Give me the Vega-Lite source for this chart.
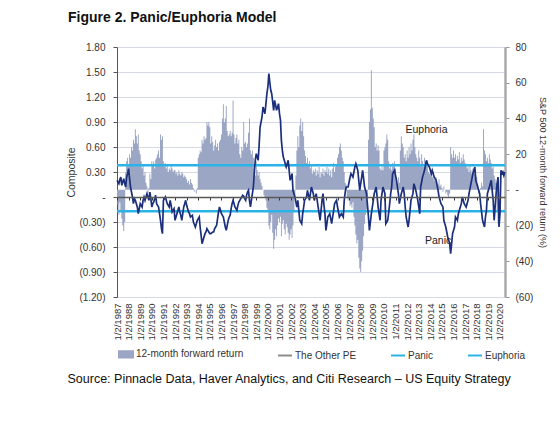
{
"$schema": "https://vega.github.io/schema/vega-lite/v6.json",
"width": 388, "height": 250,
"autosize": "none",
"padding": {"left": 117, "top": 47, "right": 55, "bottom": 139},
"background": "white",
"title": {"text": "Figure 2. Panic/Euphoria Model", "anchor": "start", "frame": "group", "dx": -49, "offset": 6, "fontSize": 14, "font": "Liberation Sans", "fontWeight": "bold", "color": "#111", "baseline": "alphabetic"},
"config": {"view": {"stroke": null}},
"datasets": {
"s": [
{"d":"1987-01","r":-4,"c":0.2},{"d":"1987-02","r":-8,"c":0.18},{"d":"1987-03","r":-14,"c":0.16},{"d":"1987-04","r":-7,"c":0.21},{"d":"1987-05","r":-12,"c":0.24},{"d":"1987-06","r":-16,"c":0.14},{"d":"1987-07","r":-20,"c":0.18},{"d":"1987-08","r":-23,"c":0.22},{"d":"1987-09","r":-18,"c":0.16},{"d":"1987-10","r":10,"c":0.12},{"d":"1987-11","r":16,"c":0.24},{"d":"1987-12","r":18,"c":0.28},
{"d":"1988-01","r":14,"c":0.34},{"d":"1988-02","r":20,"c":0.22},{"d":"1988-03","r":18,"c":0.12},{"d":"1988-04","r":24,"c":0.06},{"d":"1988-05","r":22,"c":0.0},{"d":"1988-06","r":28,"c":-0.08},{"d":"1988-07","r":26,"c":-0.02},{"d":"1988-08","r":34,"c":-0.04},{"d":"1988-09","r":30,"c":-0.08},{"d":"1988-10","r":26,"c":-0.12},{"d":"1988-11","r":31,"c":-0.2},{"d":"1988-12","r":22,"c":-0.14},
{"d":"1989-01","r":20,"c":-0.08},{"d":"1989-02","r":16,"c":-0.1},{"d":"1989-03","r":12,"c":-0.12},{"d":"1989-04","r":14,"c":-0.04},{"d":"1989-05","r":8,"c":0.0},{"d":"1989-06","r":10,"c":-0.04},{"d":"1989-07","r":4,"c":0.0},{"d":"1989-08","r":2,"c":0.04},{"d":"1989-09","r":-2,"c":0.0},{"d":"1989-10","r":1,"c":-0.04},{"d":"1989-11","r":9,"c":0.06},{"d":"1989-12","r":6,"c":-0.02},
{"d":"1990-01","r":16,"c":-0.12},{"d":"1990-02","r":14,"c":-0.08},{"d":"1990-03","r":16,"c":-0.06},{"d":"1990-04","r":12,"c":-0.02},{"d":"1990-05","r":17,"c":0.02},{"d":"1990-06","r":18,"c":-0.08},{"d":"1990-07","r":20,"c":-0.1},{"d":"1990-08","r":22,"c":-0.12},{"d":"1990-09","r":18,"c":-0.2},{"d":"1990-10","r":31,"c":-0.28},{"d":"1990-11","r":28,"c":-0.38},{"d":"1990-12","r":30,"c":-0.44},
{"d":"1991-01","r":16,"c":-0.04},{"d":"1991-02","r":13,"c":-0.02},{"d":"1991-03","r":15,"c":0.0},{"d":"1991-04","r":12,"c":-0.04},{"d":"1991-05","r":14,"c":-0.08},{"d":"1991-06","r":10,"c":-0.1},{"d":"1991-07","r":12,"c":-0.12},{"d":"1991-08","r":11,"c":-0.04},{"d":"1991-09","r":14,"c":-0.1},{"d":"1991-10","r":12,"c":-0.18},{"d":"1991-11","r":10,"c":-0.16},{"d":"1991-12","r":11,"c":-0.14},
{"d":"1992-01","r":11,"c":-0.28},{"d":"1992-02","r":9,"c":-0.24},{"d":"1992-03","r":10,"c":-0.2},{"d":"1992-04","r":8,"c":-0.16},{"d":"1992-05","r":11,"c":-0.12},{"d":"1992-06","r":9,"c":-0.18},{"d":"1992-07","r":8,"c":-0.22},{"d":"1992-08","r":10,"c":-0.28},{"d":"1992-09","r":9,"c":-0.2},{"d":"1992-10","r":7,"c":-0.12},{"d":"1992-11","r":8,"c":-0.08},{"d":"1992-12","r":7,"c":-0.04},
{"d":"1993-01","r":6,"c":-0.1},{"d":"1993-02","r":4,"c":-0.14},{"d":"1993-03","r":5,"c":-0.18},{"d":"1993-04","r":3,"c":-0.2},{"d":"1993-05","r":6,"c":-0.24},{"d":"1993-06","r":4,"c":-0.23},{"d":"1993-07","r":3,"c":-0.22},{"d":"1993-08","r":1,"c":-0.3},{"d":"1993-09","r":-1,"c":-0.33},{"d":"1993-10","r":0,"c":-0.36},{"d":"1993-11","r":-2,"c":-0.32},{"d":"1993-12","r":1,"c":-0.28},
{"d":"1994-01","r":18,"c":-0.26},{"d":"1994-02","r":20,"c":-0.24},{"d":"1994-03","r":22,"c":-0.36},{"d":"1994-04","r":21,"c":-0.46},{"d":"1994-05","r":28,"c":-0.56},{"d":"1994-06","r":26,"c":-0.52},{"d":"1994-07","r":30,"c":-0.48},{"d":"1994-08","r":28,"c":-0.44},{"d":"1994-09","r":29,"c":-0.42},{"d":"1994-10","r":38,"c":-0.38},{"d":"1994-11","r":36,"c":-0.4},{"d":"1994-12","r":38,"c":-0.42},
{"d":"1995-01","r":35,"c":-0.44},{"d":"1995-02","r":26,"c":-0.44},{"d":"1995-03","r":30,"c":-0.43},{"d":"1995-04","r":27,"c":-0.42},{"d":"1995-05","r":22,"c":-0.42},{"d":"1995-06","r":25,"c":-0.38},{"d":"1995-07","r":28,"c":-0.36},{"d":"1995-08","r":24,"c":-0.34},{"d":"1995-09","r":26,"c":-0.26},{"d":"1995-10","r":22,"c":-0.18},{"d":"1995-11","r":27,"c":-0.12},{"d":"1995-12","r":28,"c":-0.16},
{"d":"1996-01","r":31,"c":-0.2},{"d":"1996-02","r":40,"c":-0.22},{"d":"1996-03","r":48,"c":-0.24},{"d":"1996-04","r":38,"c":-0.3},{"d":"1996-05","r":40,"c":-0.36},{"d":"1996-06","r":47,"c":-0.4},{"d":"1996-07","r":33,"c":-0.34},{"d":"1996-08","r":30,"c":-0.28},{"d":"1996-09","r":31,"c":-0.24},{"d":"1996-10","r":33,"c":-0.22},{"d":"1996-11","r":30,"c":-0.14},{"d":"1996-12","r":32,"c":-0.08},
{"d":"1997-01","r":50,"c":-0.04},{"d":"1997-02","r":31,"c":-0.08},{"d":"1997-03","r":26,"c":-0.12},{"d":"1997-04","r":29,"c":-0.14},{"d":"1997-05","r":31,"c":-0.16},{"d":"1997-06","r":26,"c":-0.1},{"d":"1997-07","r":28,"c":-0.06},{"d":"1997-08","r":20,"c":-0.04},{"d":"1997-09","r":18,"c":-0.02},{"d":"1997-10","r":24,"c":0.0},{"d":"1997-11","r":22,"c":0.02},{"d":"1997-12","r":38,"c":0.01},
{"d":"1998-01","r":26,"c":-0.02},{"d":"1998-02","r":27,"c":-0.04},{"d":"1998-03","r":24,"c":0.02},{"d":"1998-04","r":26,"c":0.06},{"d":"1998-05","r":32,"c":0.08},{"d":"1998-06","r":40,"c":-0.04},{"d":"1998-07","r":22,"c":-0.12},{"d":"1998-08","r":20,"c":-0.04},{"d":"1998-09","r":22,"c":0.04},{"d":"1998-10","r":18,"c":0.12},{"d":"1998-11","r":12,"c":0.3},{"d":"1998-12","r":8,"c":0.44},
{"d":"1999-01","r":16,"c":0.52},{"d":"1999-02","r":11,"c":0.48},{"d":"1999-03","r":8,"c":0.44},{"d":"1999-04","r":10,"c":0.62},{"d":"1999-05","r":6,"c":0.84},{"d":"1999-06","r":4,"c":0.9},{"d":"1999-07","r":2,"c":0.96},{"d":"1999-08","r":0,"c":1.08},{"d":"1999-09","r":-3,"c":1.04},{"d":"1999-10","r":-4,"c":1.0},{"d":"1999-11","r":-6,"c":1.12},{"d":"1999-12","r":-10,"c":1.24},
{"d":"2000-01","r":-12,"c":1.32},{"d":"2000-02","r":-20,"c":1.48},{"d":"2000-03","r":-22,"c":1.38},{"d":"2000-04","r":-18,"c":1.28},{"d":"2000-05","r":-14,"c":1.24},{"d":"2000-06","r":-24,"c":1.14},{"d":"2000-07","r":-33,"c":1.04},{"d":"2000-08","r":-28,"c":1.16},{"d":"2000-09","r":-22,"c":1.1},{"d":"2000-10","r":-26,"c":1.04},{"d":"2000-11","r":-20,"c":1.08},{"d":"2000-12","r":-16,"c":1.12},
{"d":"2001-01","r":-18,"c":1.0},{"d":"2001-02","r":-15,"c":0.92},{"d":"2001-03","r":-26,"c":0.68},{"d":"2001-04","r":-19,"c":0.56},{"d":"2001-05","r":-17,"c":0.48},{"d":"2001-06","r":-22,"c":0.44},{"d":"2001-07","r":-25,"c":0.4},{"d":"2001-08","r":-19,"c":0.36},{"d":"2001-09","r":-21,"c":0.4},{"d":"2001-10","r":-24,"c":0.44},{"d":"2001-11","r":-28,"c":0.32},{"d":"2001-12","r":-25,"c":0.2},
{"d":"2002-01","r":-22,"c":0.24},{"d":"2002-02","r":-27,"c":0.28},{"d":"2002-03","r":-20,"c":0.08},{"d":"2002-04","r":-12,"c":0.04},{"d":"2002-05","r":-4,"c":0.0},{"d":"2002-06","r":8,"c":-0.06},{"d":"2002-07","r":22,"c":-0.12},{"d":"2002-08","r":30,"c":-0.04},{"d":"2002-09","r":24,"c":-0.16},{"d":"2002-10","r":36,"c":-0.28},{"d":"2002-11","r":40,"c":-0.3},{"d":"2002-12","r":33,"c":-0.32},
{"d":"2003-01","r":38,"c":-0.2},{"d":"2003-02","r":30,"c":-0.12},{"d":"2003-03","r":22,"c":-0.04},{"d":"2003-04","r":19,"c":-0.02},{"d":"2003-05","r":15,"c":0.0},{"d":"2003-06","r":18,"c":0.08},{"d":"2003-07","r":14,"c":0.02},{"d":"2003-08","r":16,"c":-0.04},{"d":"2003-09","r":12,"c":0.04},{"d":"2003-10","r":14,"c":0.12},{"d":"2003-11","r":9,"c":0.08},{"d":"2003-12","r":11,"c":0.04},
{"d":"2004-01","r":10,"c":-0.04},{"d":"2004-02","r":12,"c":0.0},{"d":"2004-03","r":8,"c":0.04},{"d":"2004-04","r":11,"c":-0.04},{"d":"2004-05","r":9,"c":-0.12},{"d":"2004-06","r":13,"c":-0.2},{"d":"2004-07","r":7,"c":-0.28},{"d":"2004-08","r":10,"c":-0.16},{"d":"2004-09","r":9,"c":-0.04},{"d":"2004-10","r":12,"c":0.04},{"d":"2004-11","r":8,"c":-0.1},{"d":"2004-12","r":11,"c":-0.2},
{"d":"2005-01","r":10,"c":-0.4},{"d":"2005-02","r":13,"c":-0.32},{"d":"2005-03","r":9,"c":-0.24},{"d":"2005-04","r":12,"c":-0.22},{"d":"2005-05","r":8,"c":-0.2},{"d":"2005-06","r":11,"c":-0.26},{"d":"2005-07","r":7,"c":-0.32},{"d":"2005-08","r":12,"c":-0.24},{"d":"2005-09","r":15,"c":-0.16},{"d":"2005-10","r":10,"c":-0.08},{"d":"2005-11","r":13,"c":-0.06},{"d":"2005-12","r":14,"c":-0.04},
{"d":"2006-01","r":18,"c":-0.12},{"d":"2006-02","r":20,"c":-0.18},{"d":"2006-03","r":24,"c":-0.24},{"d":"2006-04","r":26,"c":-0.22},{"d":"2006-05","r":22,"c":-0.2},{"d":"2006-06","r":18,"c":-0.22},{"d":"2006-07","r":16,"c":-0.24},{"d":"2006-08","r":10,"c":-0.04},{"d":"2006-09","r":4,"c":0.06},{"d":"2006-10","r":3,"c":0.12},{"d":"2006-11","r":-4,"c":0.12},{"d":"2006-12","r":-6,"c":0.12},
{"d":"2007-01","r":-5,"c":0.18},{"d":"2007-02","r":-9,"c":0.24},{"d":"2007-03","r":-8,"c":0.28},{"d":"2007-04","r":-10,"c":0.26},{"d":"2007-05","r":-7,"c":0.24},{"d":"2007-06","r":-15,"c":0.3},{"d":"2007-07","r":-20,"c":0.36},{"d":"2007-08","r":-25,"c":0.4},{"d":"2007-09","r":-30,"c":0.36},{"d":"2007-10","r":-28,"c":0.32},{"d":"2007-11","r":-38,"c":0.2},{"d":"2007-12","r":-44,"c":0.08},
{"d":"2008-01","r":-46,"c":0.16},{"d":"2008-02","r":-40,"c":0.24},{"d":"2008-03","r":-34,"c":0.32},{"d":"2008-04","r":-26,"c":0.22},{"d":"2008-05","r":-19,"c":0.12},{"d":"2008-06","r":-14,"c":0.08},{"d":"2008-07","r":-11,"c":0.04},{"d":"2008-08","r":-4,"c":-0.1},{"d":"2008-09","r":28,"c":-0.24},{"d":"2008-10","r":38,"c":-0.4},{"d":"2008-11","r":45,"c":-0.3},{"d":"2008-12","r":67,"c":-0.2},
{"d":"2009-01","r":46,"c":-0.12},{"d":"2009-02","r":40,"c":-0.04},{"d":"2009-03","r":35,"c":0.04},{"d":"2009-04","r":24,"c":0.08},{"d":"2009-05","r":26,"c":0.12},{"d":"2009-06","r":22,"c":0.0},{"d":"2009-07","r":25,"c":-0.12},{"d":"2009-08","r":22,"c":-0.2},{"d":"2009-09","r":12,"c":-0.28},{"d":"2009-10","r":11,"c":-0.04},{"d":"2009-11","r":13,"c":0.04},{"d":"2009-12","r":11,"c":0.12},
{"d":"2010-01","r":22,"c":0.08},{"d":"2010-02","r":24,"c":0.04},{"d":"2010-03","r":26,"c":-0.32},{"d":"2010-04","r":31,"c":-0.3},{"d":"2010-05","r":28,"c":-0.28},{"d":"2010-06","r":16,"c":-0.18},{"d":"2010-07","r":12,"c":-0.08},{"d":"2010-08","r":14,"c":0.04},{"d":"2010-09","r":11,"c":0.12},{"d":"2010-10","r":15,"c":0.28},{"d":"2010-11","r":13,"c":0.3},{"d":"2010-12","r":16,"c":0.32},
{"d":"2011-01","r":12,"c":0.26},{"d":"2011-02","r":5,"c":0.2},{"d":"2011-03","r":3,"c":0.12},{"d":"2011-04","r":7,"c":0.04},{"d":"2011-05","r":4,"c":-0.08},{"d":"2011-06","r":22,"c":-0.02},{"d":"2011-07","r":30,"c":0.04},{"d":"2011-08","r":26,"c":0.08},{"d":"2011-09","r":24,"c":0.12},{"d":"2011-10","r":18,"c":0.04},{"d":"2011-11","r":20,"c":-0.12},{"d":"2011-12","r":16,"c":-0.24},
{"d":"2012-01","r":22,"c":-0.3},{"d":"2012-02","r":18,"c":-0.36},{"d":"2012-03","r":24,"c":-0.28},{"d":"2012-04","r":20,"c":-0.16},{"d":"2012-05","r":26,"c":-0.04},{"d":"2012-06","r":22,"c":0.0},{"d":"2012-07","r":28,"c":0.04},{"d":"2012-08","r":31,"c":0.16},{"d":"2012-09","r":24,"c":0.12},{"d":"2012-10","r":20,"c":0.08},{"d":"2012-11","r":18,"c":0.02},{"d":"2012-12","r":16,"c":-0.04},
{"d":"2013-01","r":22,"c":-0.12},{"d":"2013-02","r":18,"c":-0.2},{"d":"2013-03","r":14,"c":0.12},{"d":"2013-04","r":20,"c":0.18},{"d":"2013-05","r":16,"c":0.24},{"d":"2013-06","r":13,"c":0.28},{"d":"2013-07","r":18,"c":0.32},{"d":"2013-08","r":16,"c":0.38},{"d":"2013-09","r":14,"c":0.44},{"d":"2013-10","r":16,"c":0.4},{"d":"2013-11","r":10,"c":0.38},{"d":"2013-12","r":9,"c":0.36},
{"d":"2014-01","r":11,"c":0.32},{"d":"2014-02","r":8,"c":0.28},{"d":"2014-03","r":7,"c":0.32},{"d":"2014-04","r":10,"c":0.28},{"d":"2014-05","r":6,"c":0.24},{"d":"2014-06","r":5,"c":0.22},{"d":"2014-07","r":7,"c":0.2},{"d":"2014-08","r":4,"c":0.14},{"d":"2014-09","r":3,"c":0.08},{"d":"2014-10","r":6,"c":0.0},{"d":"2014-11","r":2,"c":-0.04},{"d":"2014-12","r":3,"c":-0.08},
{"d":"2015-01","r":1,"c":-0.1},{"d":"2015-02","r":-1,"c":-0.12},{"d":"2015-03","r":2,"c":-0.28},{"d":"2015-04","r":0,"c":-0.32},{"d":"2015-05","r":-2,"c":-0.36},{"d":"2015-06","r":-1,"c":-0.42},{"d":"2015-07","r":-3,"c":-0.48},{"d":"2015-08","r":-4,"c":-0.52},{"d":"2015-09","r":-2,"c":-0.56},{"d":"2015-10","r":24,"c":-0.68},{"d":"2015-11","r":20,"c":-0.56},{"d":"2015-12","r":18,"c":-0.44},
{"d":"2016-01","r":22,"c":-0.4},{"d":"2016-02","r":18,"c":-0.36},{"d":"2016-03","r":20,"c":-0.24},{"d":"2016-04","r":16,"c":-0.26},{"d":"2016-05","r":19,"c":-0.28},{"d":"2016-06","r":17,"c":-0.2},{"d":"2016-07","r":21,"c":-0.16},{"d":"2016-08","r":15,"c":-0.12},{"d":"2016-09","r":18,"c":-0.08},{"d":"2016-10","r":16,"c":0.0},{"d":"2016-11","r":20,"c":-0.04},{"d":"2016-12","r":17,"c":-0.08},
{"d":"2017-01","r":15,"c":-0.1},{"d":"2017-02","r":14,"c":-0.12},{"d":"2017-03","r":12,"c":-0.08},{"d":"2017-04","r":13,"c":-0.04},{"d":"2017-05","r":10,"c":0.04},{"d":"2017-06","r":14,"c":0.1},{"d":"2017-07","r":11,"c":0.16},{"d":"2017-08","r":9,"c":0.22},{"d":"2017-09","r":12,"c":0.28},{"d":"2017-10","r":10,"c":0.32},{"d":"2017-11","r":9,"c":0.36},{"d":"2017-12","r":8,"c":0.2},
{"d":"2018-01","r":7,"c":0.16},{"d":"2018-02","r":3,"c":0.12},{"d":"2018-03","r":-2,"c":0.08},{"d":"2018-04","r":-4,"c":0.04},{"d":"2018-05","r":1,"c":-0.08},{"d":"2018-06","r":4,"c":-0.18},{"d":"2018-07","r":2,"c":-0.28},{"d":"2018-08","r":34,"c":-0.32},{"d":"2018-09","r":22,"c":-0.36},{"d":"2018-10","r":20,"c":-0.24},{"d":"2018-11","r":16,"c":-0.16},{"d":"2018-12","r":18,"c":0.04},
{"d":"2019-01","r":15,"c":0.08},{"d":"2019-02","r":20,"c":0.12},{"d":"2019-03","r":17,"c":0.16},{"d":"2019-04","r":15,"c":0.2},{"d":"2019-05","r":12,"c":0.08},{"d":"2019-06","r":13,"c":-0.04},{"d":"2019-07","r":8,"c":-0.28},{"d":"2019-08","r":6,"c":-0.12},{"d":"2019-09","r":4,"c":0.04},{"d":"2019-10","r":-12,"c":0.16},{"d":"2019-11","r":-19,"c":0.24},{"d":"2019-12","r":-8,"c":-0.36},
{"d":"2020-01","c":-0.2},{"d":"2020-02","c":0.32},{"d":"2020-03","c":0.28},{"d":"2020-04","c":0.3},{"d":"2020-05","c":0.26},{"d":"2020-06","c":0.3}
],
"lev": [{"lv": 0.38, "name": "Euphoria"}, {"lv": -0.17, "name": "Panic"}],
"ann": [
{"d":"2013-09","c":0.8,"label":"Euphoria"},
{"d":"2014-09","c":-0.53,"label":"Panic"}
]
},
"layer": [
{
"data": {"name": "s"},
"mark": {"type": "area", "interpolate": "step"},
"encoding": {
"x": {"field": "d", "type": "temporal",
"scale": {"type": "utc", "domain": [{"year":1987,"month":1,"date":1,"utc":true},{"year":2020,"month":6,"date":7,"utc":true}]},
"axis": {"orient": "bottom", "offset": -100,
"tickCount": {"interval": "year", "step": 1},
"labelExpr": "'1/2/' + utcFormat(datum.value, '%Y')",
"labelAngle": -90, "labelFontSize": 9.5, "labelColor": "#333", "labelFont": "Liberation Sans",
"labelPadding": 103, "labelOverlap": false, "labelFlush": false,
"ticks": true, "tickSize": 3, "tickColor": "#333", "tickWidth": 1,
"domain": true, "domainColor": "#5a5a5a", "domainWidth": 1.5, "grid": false, "zindex": 1,
"title": "Source: Pinnacle Data, Haver Analytics, and Citi Research – US Equity Strategy",
"titleFont": "Liberation Sans", "titleFontSize": 12.5, "titleFontWeight": "normal", "titleColor": "#111",
"titleAnchor": "start", "titleAlign": "left", "titleBaseline": "alphabetic", "titleX": -50, "titleY": 185}},
"y": {"field": "r", "type": "quantitative", "stack": null,
"scale": {"domain": [-60, 80], "nice": false, "zero": false},
"axis": {"orient": "right", "values": [-60,-40,-20,0,20,40,60,80],
"labelExpr": "datum.value == 0 ? '-' : (datum.value < 0 ? '(' + (-datum.value) + ')' : '' + datum.value)",
"labelFontSize": 10, "labelColor": "#333", "labelFont": "Liberation Sans", "labelPadding": 6,
"tickSize": 4, "tickColor": "#999", "domainColor": "#aaa", "domainWidth": 2.5, "grid": false,
"title": "S&P 500 12-month forward return (%)", "titleFont": "Liberation Sans", "titleFontSize": 9, "titleFontWeight": "normal", "titleColor": "#333", "titlePadding": 5}},
"color": {"datum": "12-month forward return", "type": "nominal",
"scale": {"domain": ["12-month forward return", "The Other PE", "Panic", "Euphoria"], "range": ["#9aa6c4", "#8c8c8c", "#2bb3e6", "#2bb3e6"]},
"legend": {"orient": "none", "legendX": 1, "legendY": 299, "direction": "horizontal", "columns": 4, "columnPadding": 30, "title": null,
"labelFontSize": 10, "labelFont": "Liberation Sans", "labelColor": "#333", "labelOffset": 2, "symbolSize": 196, "padding": 0,
"encode": {"symbols": {"update": {
"shape": {"signal": "datum.value === '12-month forward return' ? 'M-1,-0.45H1V0.45H-1Z' : 'M-1,0H1'"},
"fill": {"signal": "datum.value === '12-month forward return' ? '#9aa6c4' : 'transparent'"},
"stroke": {"signal": "datum.value === '12-month forward return' ? 'transparent' : (datum.value === 'The Other PE' ? '#8c8c8c' : '#2bb3e6')"},
"strokeWidth": {"value": 2}, "opacity": {"value": 1}}}}}}
}
},
{
"data": {"name": "lev"},
"mark": {"type": "rule", "strokeWidth": 2.5},
"encoding": {
"y": {"field": "lv", "type": "quantitative", "scale": {"domain": [-1.2, 1.8], "nice": false, "zero": false},
"axis": {"orient": "left", "values": [-1.2,-0.9,-0.6,-0.3,0,0.3,0.6,0.9,1.2,1.5,1.8],
"labelExpr": "abs(datum.value) < 1e-9 ? '-' : (datum.value < 0 ? '(' + format(-datum.value, '.2f') + ')' : format(datum.value, '.2f'))",
"labelFontSize": 10, "labelColor": "#333", "labelFont": "Liberation Sans", "labelPadding": 8,
"tickSize": 4, "tickColor": "#555", "domainColor": "#555", "domainWidth": 1,
"grid": true, "gridColor": "#d5dae6", "gridWidth": 1,
"title": "Composite", "titleFont": "Liberation Sans", "titleFontSize": 10.5, "titleFontWeight": "normal", "titleColor": "#333", "titlePadding": 2}},
"color": {"field": "name", "type": "nominal", "title": null}
}
},
{
"data": {"name": "s"},
"mark": {"type": "line", "color": "#1c2f7c", "strokeWidth": 1.7},
"encoding": {
"x": {"field": "d", "type": "temporal", "title": "Source: Pinnacle Data, Haver Analytics, and Citi Research – US Equity Strategy"},
"y": {"field": "c", "type": "quantitative", "scale": {"domain": [-1.2, 1.8], "nice": false, "zero": false}, "axis": null}
}
},
{
"data": {"name": "ann"},
"mark": {"type": "text", "font": "Liberation Sans", "fontSize": 10.5, "color": "#222", "align": "center", "baseline": "middle"},
"encoding": {
"x": {"field": "d", "type": "temporal", "title": "Source: Pinnacle Data, Haver Analytics, and Citi Research – US Equity Strategy"},
"y": {"field": "c", "type": "quantitative", "scale": {"domain": [-1.2, 1.8], "nice": false, "zero": false}, "axis": null},
"text": {"field": "label"}
}
}
],
"resolve": {"scale": {"y": "independent"}}
}
